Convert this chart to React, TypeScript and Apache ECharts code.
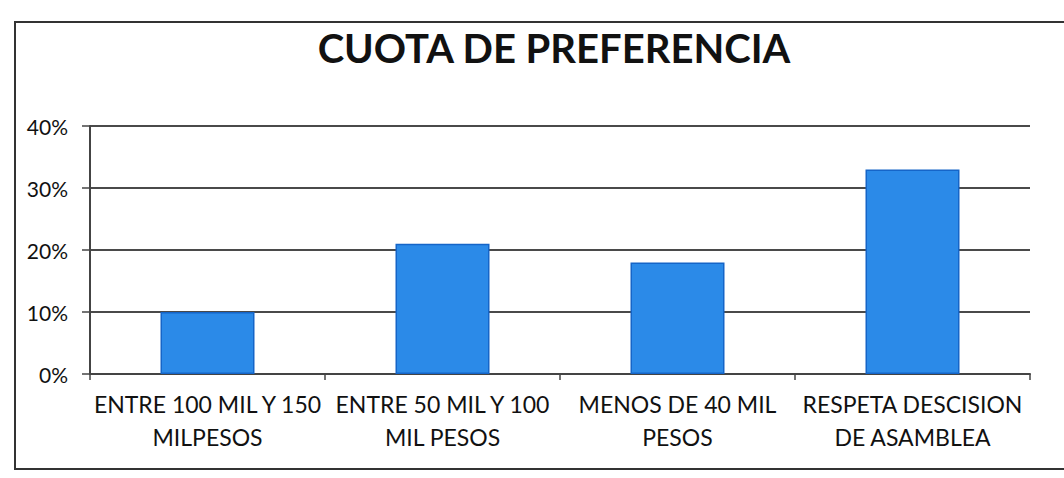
import React, { useEffect, useRef } from "react";
import * as echarts from "echarts";

const titleText = "CUOTA DE PREFERENCIA";
const categories = [
  "ENTRE 100 MIL Y 150\nMILPESOS",
  "ENTRE 50 MIL Y 100\nMIL PESOS",
  "MENOS DE 40 MIL\nPESOS",
  "RESPETA DESCISION\nDE ASAMBLEA",
];
const values = [10, 21, 18, 33];
const yTicks = [0, 10, 20, 30, 40];

const FONT = "Lato, 'Open Sans', sans-serif";

export default function App() {
  const ref = useRef<HTMLDivElement>(null);
  useEffect(() => {
    if (!ref.current) return;
    const chart = echarts.init(ref.current, undefined, { renderer: "svg" });
    chart.setOption({
      animation: false,
      backgroundColor: "#ffffff",
      graphic: [
        {
          type: "rect",
          shape: { x: 15, y: 22, width: 1060, height: 447 },
          style: { fill: "none", stroke: "#333", lineWidth: 2 },
        },
        {
          type: "text",
          x: 554,
          y: 28,
          style: {
            text: titleText,
            fontFamily: FONT,
            fontSize: 40,
            fontWeight: "bold",
            fill: "#111",
            textAlign: "center",
            textVerticalAlign: "top",
          },
        },
      ],
      grid: { left: 90, right: 34, top: 126, bottom: 104 },
      xAxis: {
        type: "category",
        data: categories,
        axisLine: { show: true, lineStyle: { color: "#444", width: 2 } },
        axisTick: { show: true, alignWithLabel: false, length: 6, lineStyle: { color: "#444", width: 1.5 } },
        axisLabel: {
          fontFamily: FONT,
          fontSize: 23,
          color: "#111",
          lineHeight: 33,
          margin: 13,
          interval: 0,
        },
      },
      yAxis: {
        type: "value",
        min: yTicks[0],
        max: yTicks[yTicks.length - 1],
        interval: 10,
        axisLine: { show: true, lineStyle: { color: "#444", width: 2 } },
        axisTick: { show: true, length: 8, lineStyle: { color: "#444", width: 1.5 } },
        splitLine: { show: true, lineStyle: { color: "#4a4a4a", width: 2 } },
        axisLabel: {
          fontFamily: FONT,
          fontSize: 21,
          color: "#111",
          margin: 22,
          formatter: (v: number) => `${v}%`,
        },
      },
      series: [
        {
          type: "bar",
          data: values,
          barWidth: "40%",
          itemStyle: { color: "#2b8ae8", borderColor: "#1565c8", borderWidth: 1.5 },
        },
      ],
    });
    return () => chart.dispose();
  }, []);
  return (
    <div
      ref={ref}
      style={{ position: "fixed", left: 0, top: 0, width: 1064, height: 478 }}
    />
  );
}
